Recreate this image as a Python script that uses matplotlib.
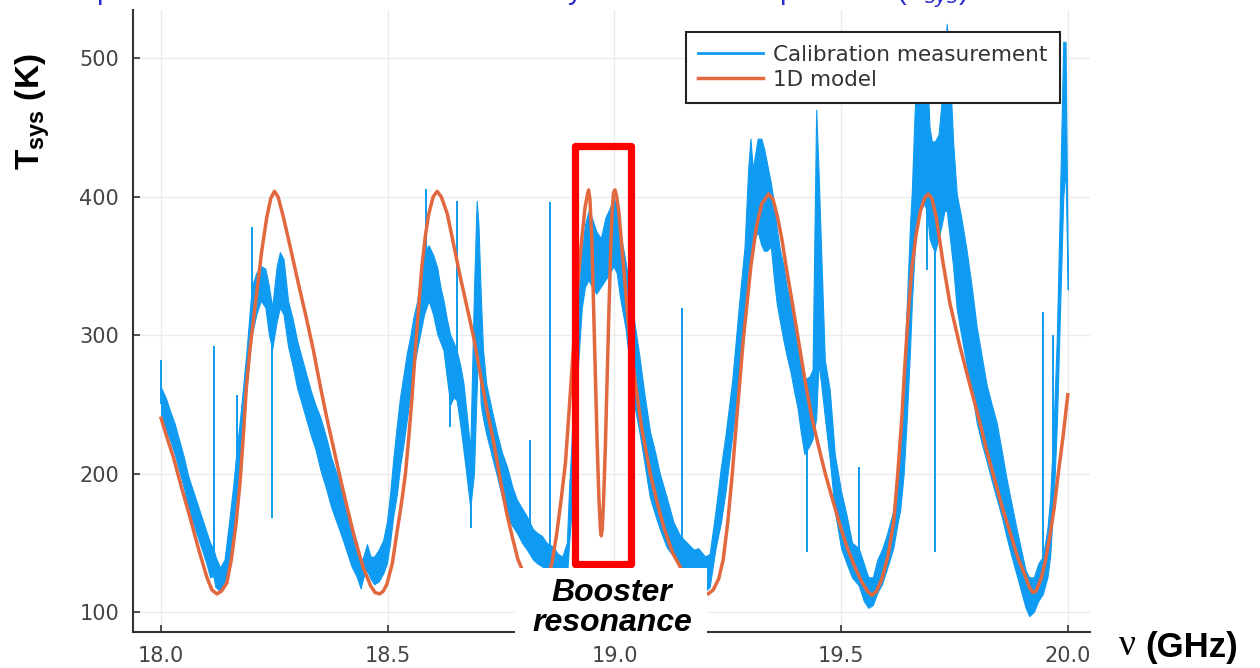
import matplotlib
matplotlib.use("Agg")
import matplotlib.pyplot as plt
from matplotlib.patches import Rectangle
from matplotlib.lines import Line2D

meas_ghz = [18.000, 18.010, 18.020, 18.030, 18.040, 18.050, 18.060, 18.070, 18.080, 18.090,
            18.100, 18.108, 18.115, 18.120, 18.130, 18.140, 18.150, 18.159, 18.166, 18.174,
            18.181, 18.188, 18.195, 18.200, 18.210, 18.220, 18.230, 18.238, 18.245,
            18.255, 18.262, 18.270, 18.280, 18.290, 18.300, 18.315, 18.330, 18.340, 18.352,
            18.365, 18.375, 18.389, 18.400, 18.410, 18.420, 18.432, 18.440, 18.446, 18.454,
            18.462, 18.470, 18.480, 18.490, 18.498, 18.505, 18.512, 18.520, 18.527, 18.535,
            18.542, 18.550, 18.556, 18.565, 18.571, 18.580, 18.590, 18.600, 18.609, 18.616,
            18.623, 18.630, 18.638, 18.645, 18.652, 18.660, 18.667, 18.675, 18.682, 18.690,
            18.696, 18.700, 18.705, 18.710, 18.717, 18.730, 18.741, 18.752, 18.763, 18.775,
            18.785, 18.796, 18.807, 18.820, 18.830, 18.840, 18.850, 18.865, 18.875, 18.885,
            18.895, 18.900, 18.905, 18.912, 18.920, 18.928, 18.935, 18.943, 18.950, 18.960,
            18.970, 18.980, 18.990, 18.998, 19.005, 19.012, 19.025, 19.041, 19.055, 19.065,
            19.078, 19.090, 19.100, 19.115, 19.130, 19.145, 19.160, 19.175, 19.185, 19.200,
            19.210, 19.223, 19.235, 19.245, 19.260, 19.275, 19.287, 19.295, 19.300, 19.305,
            19.310, 19.316, 19.324, 19.330, 19.336, 19.345, 19.352, 19.358, 19.365, 19.373,
            19.380, 19.388, 19.396, 19.404, 19.411, 19.419, 19.430, 19.437, 19.445, 19.450,
            19.456, 19.464, 19.475, 19.486, 19.500, 19.512, 19.524, 19.539, 19.550, 19.560,
            19.570, 19.580, 19.590, 19.600, 19.615, 19.625, 19.630, 19.638, 19.645, 19.652,
            19.656, 19.662, 19.667, 19.675, 19.683, 19.689, 19.695, 19.700, 19.707, 19.715,
            19.722, 19.728, 19.733, 19.740, 19.747, 19.755, 19.765, 19.777, 19.788, 19.799,
            19.810, 19.821, 19.832, 19.843, 19.855, 19.865, 19.876, 19.887, 19.897, 19.907,
            19.915, 19.925, 19.935, 19.945, 19.955, 19.961, 19.969, 19.976, 19.983, 19.990,
            19.995, 20.000]
meas_lo = [238, 232, 224, 214, 202, 190, 176, 165, 155, 145,
           135, 125, 126, 118, 115, 120, 135, 160, 185, 210,
           235, 260, 285, 300, 315, 325, 320, 300, 290,
           310, 320, 315, 292, 278, 262, 245, 228, 218, 202,
           188, 176, 163, 153, 143, 133, 125, 117, 125, 130,
           124, 120, 122, 128, 135, 150, 169, 185, 205, 222,
           239, 258, 275, 290, 300, 315, 325, 315, 301, 295,
           289, 270, 250, 255, 253, 235, 217, 195, 175, 200,
           260, 300, 250, 240, 229, 212, 198, 183, 169, 162,
           157, 150, 145, 138, 135, 133, 130, 128, 125, 122,
           125, 150, 172, 220, 280, 320, 335, 340, 335, 330,
           335, 340, 345, 350, 345, 328, 304, 255, 230, 210,
           183, 170, 160, 147, 140, 132, 130, 125, 119, 115,
           118, 146, 165, 187, 228, 268, 309, 350, 350, 360,
           370, 375, 365, 361, 361, 364, 340, 323, 310, 296,
           285, 274, 260, 247, 230, 214, 220, 225, 240, 280,
           265, 241, 210, 173, 146, 135, 125, 119, 108, 103,
           105, 114, 120, 130, 146, 165, 173, 200, 241, 290,
           323, 360, 380, 390, 395, 390, 370, 365, 360, 370,
           380, 390, 390, 370, 350, 319, 300, 278, 260, 237,
           222, 209, 195, 182, 168, 154, 140, 127, 115, 103,
           97, 100, 108, 113, 125, 140, 182, 237, 319, 400,
           420, 333]
meas_hi = [262, 255, 245, 236, 224, 212, 198, 188, 178, 168,
           158, 150, 146, 140, 132, 138, 165, 191, 215, 239,
           263, 287, 315, 335, 345, 350, 348, 335, 320,
           350, 360, 355, 325, 312, 296, 278, 260, 250, 240,
           225, 212, 198, 188, 175, 162, 150, 135, 140, 149,
           140, 140, 145, 152, 165, 185, 210, 235, 255, 272,
           287, 300, 312, 325, 340, 360, 365, 358, 349, 335,
           325, 312, 300, 295, 289, 278, 265, 240, 217, 330,
           397, 380, 330, 290, 265, 245, 229, 215, 205, 190,
           181, 175, 169, 160, 157, 155, 150, 147, 142, 140,
           150, 190, 220, 280, 330, 360, 380, 390, 385, 375,
           370, 385, 392, 400, 392, 376, 352, 316, 285, 260,
           231, 215, 200, 183, 165, 155, 150, 145, 146, 140,
           142, 173, 205, 228, 268, 323, 364, 420, 442, 420,
           430, 442, 442, 435, 425, 410, 395, 377, 362, 350,
           335, 323, 310, 296, 280, 268, 270, 275, 463, 420,
           360, 282, 260, 214, 187, 170, 150, 146, 135, 125,
           125, 138, 145, 155, 173, 205, 228, 270, 323, 380,
           404, 460, 490, 500, 505, 495, 450, 440, 440, 445,
           470, 500, 525, 490, 440, 402, 385, 361, 335, 306,
           285, 264, 250, 237, 215, 196, 178, 160, 145, 130,
           125, 125, 135, 140, 160, 182, 237, 300, 402, 512,
           512, 345]

spike_ghz = [18.000, 18.117, 18.167, 18.200, 18.245, 18.584, 18.638, 18.652, 18.683,
             18.813, 18.858, 19.150, 19.425, 19.539, 19.689, 19.707, 19.945, 19.967]
spike_lo = [250, 135, 180, 300, 168, 340, 234, 270, 161, 150, 140, 140, 143, 130, 347, 143, 125, 190]
spike_hi = [282, 292, 257, 378, 300, 406, 270, 397, 200, 224, 396, 320, 240, 205, 420, 380, 317, 300]

# 1D model curve
model_ghz = [18.000, 18.013, 18.027, 18.045, 18.064, 18.083, 18.101, 18.112, 18.123, 18.133,
             18.145, 18.155, 18.165, 18.174, 18.182, 18.188, 18.196, 18.207, 18.215, 18.222,
             18.233, 18.242, 18.250, 18.258, 18.270, 18.286, 18.303, 18.320, 18.336, 18.350,
             18.365, 18.380, 18.395, 18.410, 18.428, 18.446, 18.462, 18.472, 18.482, 18.490,
             18.498, 18.510, 18.520, 18.530, 18.539, 18.546, 18.553, 18.563, 18.575, 18.583,
             18.590, 18.600, 18.609, 18.618, 18.631, 18.645, 18.660, 18.675, 18.689, 18.704,
             18.719, 18.734, 18.748, 18.762, 18.774, 18.787, 18.800, 18.812, 18.822, 18.832,
             18.842, 18.852, 18.862, 18.872, 18.882, 18.892, 18.902, 18.912, 18.920, 18.928,
             18.935, 18.940, 18.943, 18.946, 18.950, 18.954, 18.958, 18.962, 18.966, 18.969,
             18.971, 18.973, 18.976, 18.980, 18.984, 18.988, 18.992, 18.995, 18.998, 19.001,
             19.005, 19.010, 19.020, 19.032, 19.045, 19.060, 19.079, 19.095, 19.110, 19.128,
             19.146, 19.160, 19.175, 19.190, 19.207, 19.218, 19.230, 19.240, 19.250, 19.260,
             19.270, 19.284, 19.301, 19.313, 19.325, 19.340, 19.350, 19.360, 19.370, 19.380,
             19.393, 19.406, 19.420, 19.435, 19.450, 19.465, 19.483, 19.500, 19.515, 19.531,
             19.545, 19.558, 19.568, 19.578, 19.590, 19.603, 19.616, 19.625, 19.634, 19.640,
             19.648, 19.656, 19.665, 19.675, 19.684, 19.692, 19.700, 19.710, 19.725, 19.740,
             19.762, 19.785, 19.806, 19.820, 19.835, 19.855, 19.876, 19.890, 19.905, 19.915,
             19.923, 19.930, 19.942, 19.950, 19.960, 19.970, 19.979, 19.990, 20.000]
model_k = [240, 226, 212, 190, 168, 145, 125, 116, 113, 115,
           121, 138, 163, 193, 230, 262, 290, 320, 342, 361,
           385, 399, 404, 400, 385, 362, 337, 313, 289, 265,
           241, 219, 197, 176, 152, 132, 119, 114, 113, 115,
           120, 135, 157, 178, 200, 225, 253, 299, 349, 372,
           387, 400, 404, 400, 388, 366, 342, 320, 299, 272,
           246, 222, 196, 172, 155, 138, 128, 119, 114, 113,
           116, 124, 135, 155, 180, 208, 255, 304, 340, 370,
           392, 401, 405, 398, 370, 320, 270, 220, 180, 160,
           155, 160, 180, 220, 270, 320, 365, 390, 403, 405,
           400, 388, 350, 304, 268, 233, 200, 178, 160, 143,
           132, 124, 118, 114, 113, 116, 124, 138, 165, 200,
           241, 296, 350, 378, 395, 402, 398, 385, 368, 347,
           322, 296, 268, 241, 220, 200, 179, 160, 145, 132,
           122, 115, 112, 115, 124, 140, 165, 200, 241, 275,
           315, 348, 372, 390, 399, 402, 399, 385, 352, 323,
           292, 263, 237, 218, 200, 176, 154, 139, 127, 118,
           114, 115, 125, 136, 154, 175, 200, 228, 257]

x_ticks = [18.0, 18.5, 19.0, 19.5, 20.0]
y_ticks = [100, 200, 300, 400, 500]

blue = "#0f9bf2"
orange = "#e2683f"

plt.rcParams["mathtext.fontset"] = "custom"
plt.rcParams["mathtext.rm"] = "Liberation Sans"
plt.rcParams["mathtext.bf"] = "Liberation Sans:bold"

fig = plt.figure(figsize=(12.6, 6.68), dpi=100)
ax = fig.add_axes([133 / 1260, 36 / 668, 957 / 1260, 622 / 668])

ax.fill_between(meas_ghz, meas_lo, meas_hi, color=blue, lw=0.8, zorder=2)
ax.vlines(spike_ghz, spike_lo, spike_hi, color=blue, lw=1.4, zorder=2)
ax.plot(model_ghz, model_k, color=orange, lw=2.5, zorder=3, solid_joinstyle="round")

# red box around the booster resonance
ax.add_patch(Rectangle((18.913, 134.7), 19.036 - 18.913, 436.7 - 134.7, fill=False,
                       edgecolor="#ff0000", lw=5.2, joinstyle="round", zorder=5, clip_on=False))

ax.set_xlim(17.938, 20.049)
ax.set_ylim(85.5, 535)
ax.set_xticks(x_ticks)
ax.set_xticklabels([f"{t:.1f}" for t in x_ticks])
ax.set_yticks(y_ticks)
ax.tick_params(direction="in", length=5, width=1.2, labelsize=15, color="#333",
               labelcolor="#444", pad=10)
for side in ["top", "right"]:
    ax.spines[side].set_visible(False)
for side in ["left", "bottom"]:
    ax.spines[side].set_color("#333")
    ax.spines[side].set_linewidth(1.5)
ax.grid(True, color="#ececec", lw=1.0)
ax.set_axisbelow(True)

handles = [Line2D([], [], color=blue, lw=2), Line2D([], [], color=orange, lw=2.5)]
leg = ax.legend(handles, ["Calibration measurement", "1D model"], loc="upper right",
                bbox_to_anchor=(1060 / 1260, 1 - 32 / 668), bbox_transform=fig.transFigure,
                fontsize=15.5, fancybox=False, edgecolor="#222", framealpha=1,
                borderpad=0.6, labelspacing=0.22, handlelength=3.0, handletextpad=0.45,
                borderaxespad=0)
leg.get_frame().set_linewidth(1.5)
leg.set_zorder(6)
for t in leg.get_texts():
    t.set_color("#333")

# title line, cropped by the top edge as in the original slide
fig.text(968 / 1260, 1 - 10 / 668, "Comparison of measured and modelled system noise temperature (T$_{sys}$)",
         color="#2a2ad0", fontsize=21, family="Liberation Sans", ha="right", va="bottom")

# axis labels
fig.text(33 / 1260, 1 - 112 / 668, r"T$_{\mathbf{sys}}$ (K)", rotation=90, ha="center",
         va="center", fontsize=24, fontweight="bold", family="Liberation Sans")
fig.text(1127 / 1260, 1 - 646 / 668, "ν", family="Liberation Serif", fontsize=27,
         ha="center", va="center")
fig.text(1145 / 1260, 1 - 648 / 668, "(GHz)", family="Liberation Sans", fontweight="bold",
         fontsize=25, ha="left", va="center")

# "Booster resonance" label on a white patch
fig.add_artist(Rectangle((515 / 1260, (668 - 645) / 668), 192 / 1260, 77 / 668,
                         transform=fig.transFigure, facecolor="white", edgecolor="none", zorder=6))
fig.text(612 / 1260, 1 - 608 / 668, "Booster\nresonance", ha="center", va="center",
         fontsize=23, fontweight="bold", fontstyle="italic", family="Liberation Sans",
         linespacing=1.0, zorder=7)

fig.savefig("out.png", dpi=100)
